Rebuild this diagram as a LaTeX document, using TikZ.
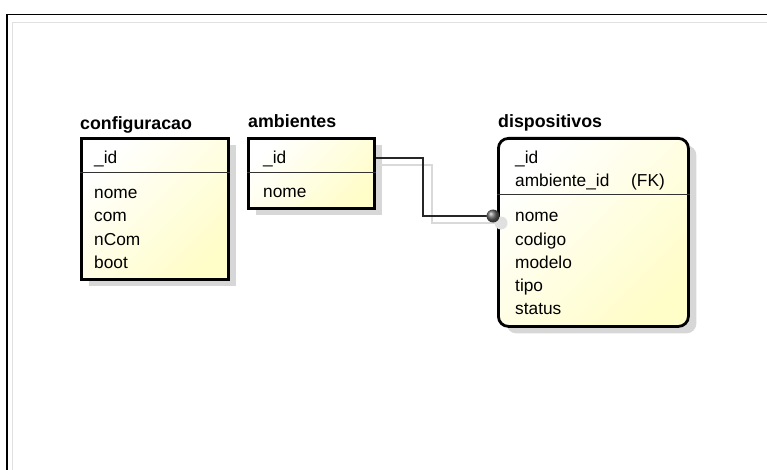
\documentclass[tikz,border=0pt]{standalone}
\usepackage{fontspec}
\setmainfont{Liberation Sans}
\usetikzlibrary{shadows}
\definecolor{tblyel}{RGB}{255,253,200}
\definecolor{shd}{RGB}{215,215,215}
\begin{document}
\begin{tikzpicture}[x=1pt,y=-1pt,
  tbl/.style={draw=black, line width=2.8pt, anchor=north west, inner sep=0pt,
    shading=axis, left color=white, right color=tblyel, shading angle=45,
    drop shadow={shadow xshift=8pt, shadow yshift=-7pt, fill=shd, opacity=1}},
  fld/.style={anchor=base west, inner sep=0pt, font=\fontsize{17.3}{19}\selectfont},
  ttl/.style={anchor=base west, inner sep=0pt, font=\fontsize{17.8}{19}\selectfont\bfseries},
  sep/.style={line width=1pt, black!80},
  rel/.style={line width=1.1pt, black!85},
  relshadow/.style={line width=1.1pt, black!15}]
\useasboundingbox (0,0) rectangle (767,470);
% frame
\draw[line width=1.5pt] (7,470) -- (7,14.5) -- (767,14.5);
\draw[line width=1pt, black!12] (12,470) -- (12,22.5) -- (767,22.5);

% configuracao
\node[ttl] (tconf) at (80,130) {configuracao};
\node[tbl, minimum width=147pt, minimum height=141pt] (conf) at (80,137) {};
\draw[sep] (conf.west |- 0,173) -- (conf.east |- 0,173);
\node[fld] (c1) at (94,164) {\_id};
\node[fld] (c2) at (94,199) {nome};
\node[fld] (c3) at (94,222) {com};
\node[fld] (c4) at (94,245) {nCom};
\node[fld] (c5) at (94,268) {boot};

% ambientes
\node[ttl] (tamb) at (248,128) {ambientes};
\node[tbl, minimum width=126pt, minimum height=70pt] (amb) at (247,137) {};
\draw[sep] (amb.west |- 0,173) -- (amb.east |- 0,173);
\node[fld] (a1) at (263,164) {\_id};
\node[fld] (a2) at (263,198) {nome};

% dispositivos
\node[ttl] (tdis) at (498,128) {dispositivos};
\node[tbl, rounded corners=10pt, minimum width=190pt, minimum height=188pt] (dis) at (497,137) {};
\draw[sep] (dis.west |- 0,195) -- (dis.east |- 0,195);
\node[fld] (d1) at (515,164) {\_id};
\node[fld] (d2) at (515,187) {ambiente\_id};
\node[fld] (d2b) at (631,187) {(FK)};
\node[fld] (d3) at (515,222) {nome};
\node[fld] (d4) at (515,245) {codigo};
\node[fld] (d5) at (515,268) {modelo};
\node[fld] (d6) at (515,291) {tipo};
\node[fld] (d7) at (515,314) {status};

% relationship
\coordinate (rs) at (amb.east |- 0,158);
\coordinate (re) at (493,216);
\coordinate (rss) at (380,165);
\coordinate (res) at (501,223);
\draw[relshadow] (rss) -- (432,165) -- (432,223) -- (res);
\fill[black!12] (res) circle (6.5pt);
\draw[rel] (rs) -- (423,158) -- (423,216) -- (re);
\shade[ball color=black!60] (re) circle (6.5pt);
\end{tikzpicture}
\end{document}
